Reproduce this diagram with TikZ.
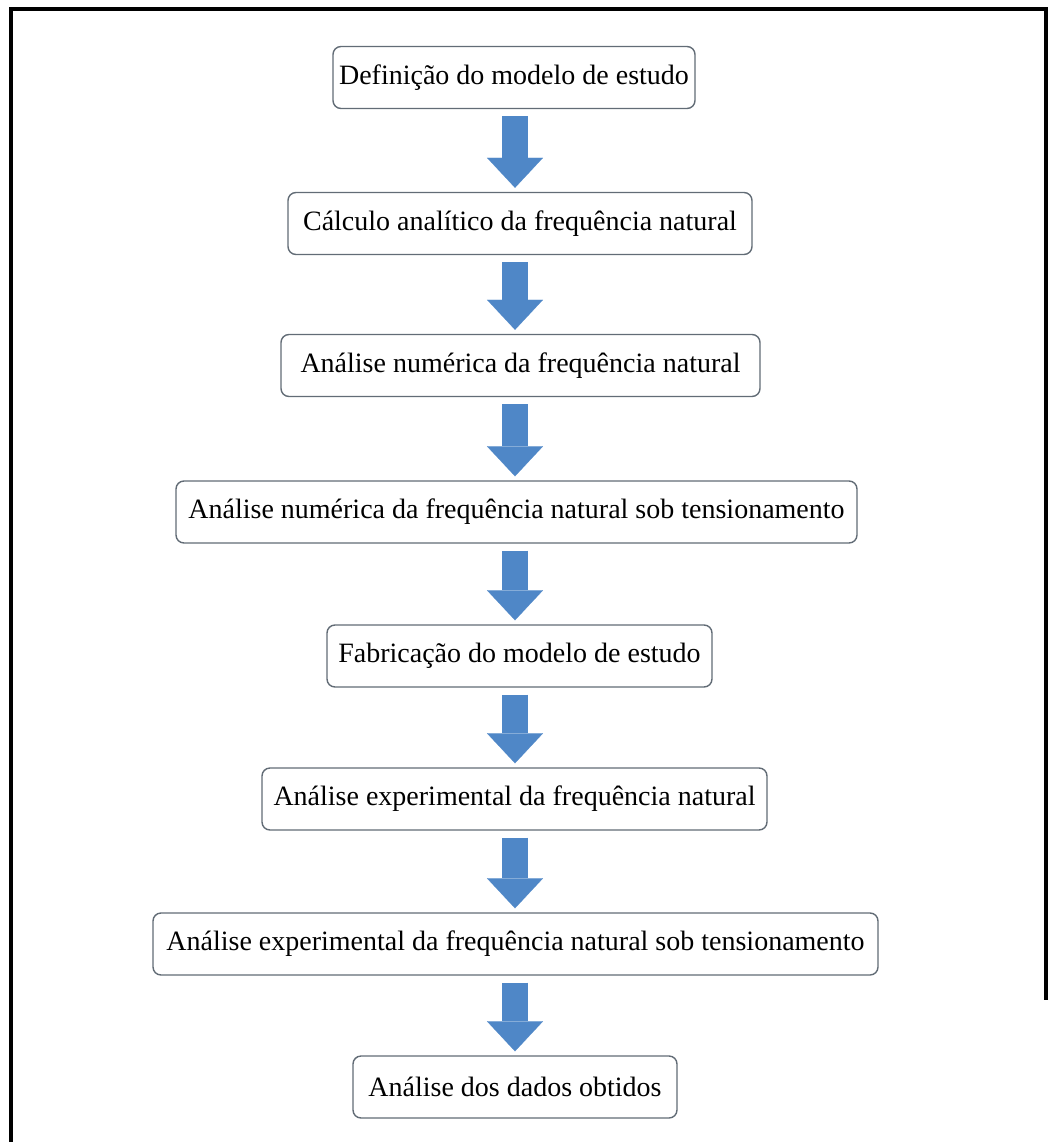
\documentclass[tikz,border=0pt]{standalone}
\usepackage{fontspec}
\setmainfont{Liberation Serif}
\usepackage{tikz}
\usetikzlibrary{positioning,arrows.meta,calc}
\definecolor{azulseta}{RGB}{79,135,199}
\definecolor{bordacinza}{RGB}{98,108,118}
\tikzset{
etapa/.style={
  draw=bordacinza,
  line width=1.4pt,
  rounded corners=8pt,
  fill=white,
  minimum height=62pt,
  inner sep=0pt,
  font=\fontsize{28}{32}\selectfont
},
seta/.style={
  draw=azulseta,
  line width=26pt,
  -{Triangle[width=56pt,length=30pt,line width=0.1pt]},
  shorten <=7pt,
  shorten >=4pt
},
moldura/.style={line width=4pt, draw=black}
}

\begin{document}
\begin{tikzpicture}[x={(1pt,0)}, y={(0,-1pt)}]
  \useasboundingbox (0,0) rectangle (1051,1142);
  \draw[moldura] (11,1142) -- (11,9.5) -- (1046,9.5) -- (1046,1000);

  \coordinate (eixo) at (515,0);

  \node[etapa, minimum width=362pt] (e1) at (514,77.5) {Definição do modelo de estudo};
  \node[etapa, minimum width=464pt] (e2) at (520,223.5) {Cálculo analítico da frequência natural};
  \node[etapa, minimum width=479pt] (e3) at (520.5,365.5) {Análise numérica da frequência natural};
  \node[etapa, minimum width=681pt] (e4) at (516.5,512) {Análise numérica da frequência natural sob tensionamento};
  \node[etapa, minimum width=385pt] (e5) at (519.5,656) {Fabricação do modelo de estudo};
  \node[etapa, minimum width=505pt] (e6) at (514.5,799) {Análise experimental da frequência natural};
  \node[etapa, minimum width=725pt] (e7) at (515.5,944) {Análise experimental da frequência natural sob tensionamento};
  \node[etapa, minimum width=324pt] (e8) at (515,1087) {Análise dos dados obtidos};

  % setas entre as etapas
  \foreach \a/\b in {e1/e2,e2/e3,e3/e4,e4/e5,e5/e6,e6/e7,e7/e8}
    \draw[seta] (\a.south -| eixo) -- (\b.north -| eixo);
\end{tikzpicture}
\end{document}
